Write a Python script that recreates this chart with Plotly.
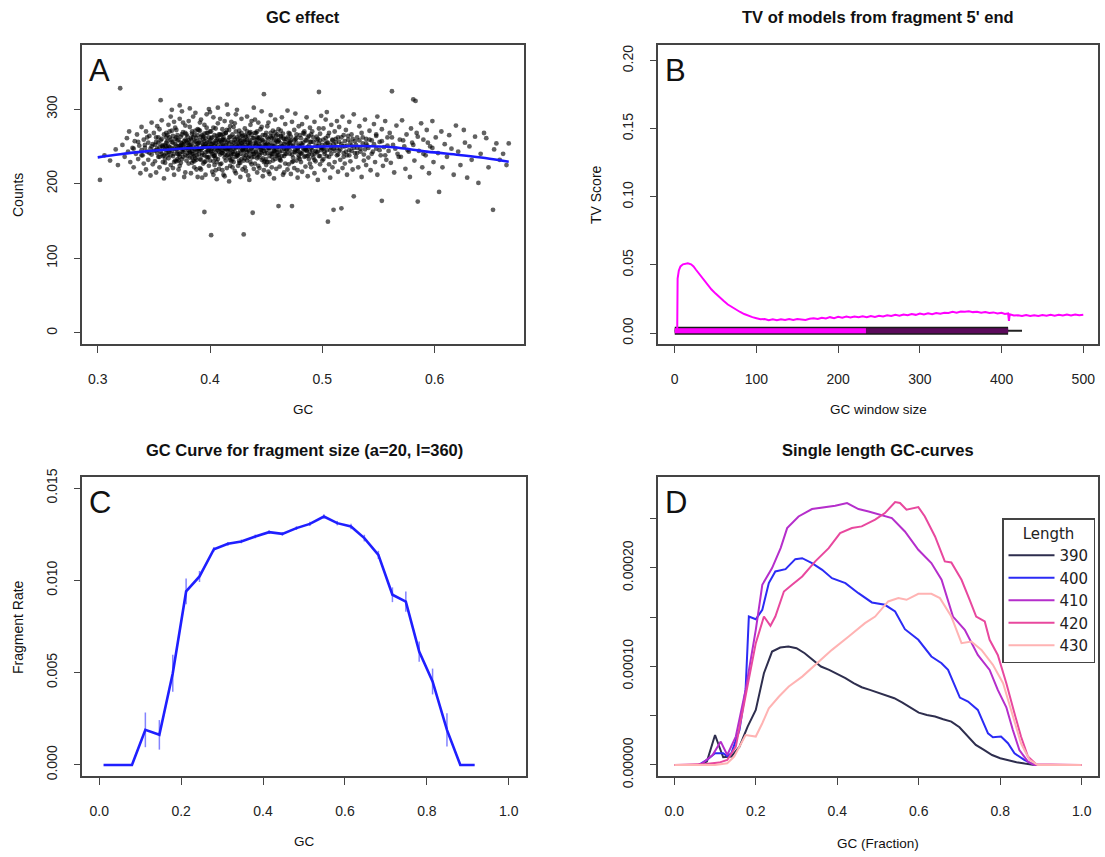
import plotly.graph_objects as go

W, H = 1105, 857
FONT = "Liberation Sans, Arial, sans-serif"
FONT_LEG = "DejaVu Sans, Liberation Sans, sans-serif"

# ---------------- Panel A: GC effect (scatter + loess) ----------------
scatter_points = [
    (0.302,205),(0.306,238),(0.311,231),(0.316,246),(0.318,225),(0.320,328),
    (0.322,252),(0.324,236),(0.326,261),(0.327,243),(0.329,229),(0.328,270),
    (0.331,248),(0.332,222),(0.333,257),(0.334,240),(0.335,266),(0.336,233),(0.337,251),(0.338,214),(0.339,245),(0.339,276),
    (0.340,238),(0.341,259),(0.341,227),(0.342,248),(0.343,270),(0.343,219),(0.344,243),(0.345,255),(0.345,232),(0.346,264),(0.347,247),(0.347,211),(0.348,282),(0.348,239),(0.349,253),(0.349,226),
    (0.350,244),(0.350,268),(0.351,230),(0.352,256),(0.352,215),(0.353,241),(0.353,277),(0.354,236),(0.354,262),(0.355,249),(0.355,222),(0.356,312),(0.356,258),(0.357,240),(0.357,285),(0.358,229),(0.358,251),(0.359,266),(0.359,207),(0.355,273),(0.352,245),(0.358,237),
    (0.360,252),(0.360,228),(0.361,268),(0.361,241),(0.362,219),(0.362,257),(0.363,279),(0.363,234),(0.364,249),(0.364,262),(0.365,225),(0.365,290),(0.366,244),(0.366,271),(0.367,237),(0.367,255),(0.368,212),(0.368,247),(0.368,283),(0.369,231),(0.369,260),(0.361,250),(0.363,243),(0.365,238),(0.366,299),(0.367,221),(0.369,275),(0.362,265),
    (0.370,246),(0.370,272),(0.371,233),(0.371,258),(0.372,219),(0.372,250),(0.373,287),(0.373,240),(0.374,263),(0.374,228),(0.375,254),(0.375,297),(0.376,236),(0.376,269),(0.377,245),(0.377,209),(0.378,259),(0.378,278),(0.379,231),(0.379,248),(0.371,265),(0.372,239),(0.373,224),(0.374,251),(0.375,243),(0.376,282),(0.377,257),(0.378,215),(0.379,266),(0.370,230),(0.373,305),(0.376,252),
    (0.380,241),(0.380,263),(0.381,227),(0.381,252),(0.382,276),(0.382,235),(0.383,248),(0.383,214),(0.384,267),(0.384,244),(0.385,290),(0.385,231),(0.386,256),(0.386,222),(0.387,271),(0.387,246),(0.388,238),(0.388,261),(0.389,209),(0.389,253),(0.381,284),(0.382,243),(0.383,259),(0.384,228),(0.385,250),(0.386,237),(0.387,295),(0.388,219),(0.389,273),(0.380,255),(0.382,301),(0.384,240),(0.386,265),(0.388,232),
    (0.390,247),(0.390,272),(0.391,233),(0.391,258),(0.392,219),(0.392,286),(0.393,241),(0.393,265),(0.394,227),(0.394,252),(0.395,162),(0.395,279),(0.395,238),(0.396,261),(0.396,212),(0.397,249),(0.397,293),(0.398,235),(0.398,268),(0.399,224),(0.399,256),(0.390,239),(0.391,282),(0.392,246),(0.393,208),(0.394,263),(0.395,250),(0.396,230),(0.397,275),(0.398,243),(0.399,300),(0.391,221),(0.393,254),(0.395,267),(0.397,236),(0.399,245),
    (0.400,258),(0.400,231),(0.401,131),(0.401,270),(0.401,244),(0.402,216),(0.402,262),(0.403,237),(0.403,289),(0.404,251),(0.404,225),(0.405,274),(0.405,242),(0.406,206),(0.406,259),(0.407,233),(0.407,281),(0.408,248),(0.408,220),(0.409,266),(0.409,239),(0.400,296),(0.402,247),(0.403,212),(0.404,265),(0.405,254),(0.406,229),(0.407,302),(0.408,256),(0.409,226),(0.401,253),(0.403,275),(0.405,218),(0.407,245),(0.409,287),(0.404,238),
    (0.410,250),(0.410,227),(0.411,273),(0.411,241),(0.412,212),(0.412,259),(0.413,284),(0.413,235),(0.414,247),(0.414,268),(0.415,221),(0.415,255),(0.416,293),(0.416,239),(0.417,262),(0.417,203),(0.418,245),(0.418,277),(0.419,230),(0.419,256),(0.410,265),(0.411,218),(0.412,244),(0.413,258),(0.414,231),(0.415,306),(0.416,249),(0.417,272),(0.418,224),(0.419,240),(0.411,253),(0.413,210),(0.415,238),(0.417,247),(0.419,283),(0.412,267),
    (0.420,243),(0.420,266),(0.421,229),(0.421,255),(0.422,281),(0.422,217),(0.423,248),(0.423,236),(0.424,262),(0.424,299),(0.425,241),(0.425,224),(0.426,271),(0.426,252),(0.427,209),(0.427,258),(0.428,233),(0.428,287),(0.429,246),(0.429,264),(0.420,222),(0.421,276),(0.422,250),(0.423,214),(0.424,239),(0.425,260),(0.426,231),(0.427,245),(0.428,268),(0.429,219),(0.430,132),(0.421,240),(0.423,293),(0.425,254),(0.427,228),(0.429,251),
    (0.430,257),(0.430,238),(0.431,274),(0.431,222),(0.432,249),(0.432,263),(0.433,231),(0.433,290),(0.434,245),(0.434,211),(0.435,268),(0.435,237),(0.436,254),(0.436,279),(0.437,226),(0.437,247),(0.438,161),(0.438,261),(0.439,240),(0.439,302),(0.430,244),(0.431,256),(0.432,217),(0.433,270),(0.434,235),(0.435,251),(0.436,229),(0.437,284),(0.438,243),(0.439,220),(0.431,234),(0.433,259),(0.435,205),(0.437,266),
    (0.440,250),(0.440,227),(0.441,268),(0.441,242),(0.442,215),(0.442,259),(0.443,282),(0.443,236),(0.444,253),(0.444,221),(0.445,273),(0.445,246),(0.446,232),(0.446,297),(0.447,258),(0.447,210),(0.448,320),(0.448,244),(0.449,265),(0.449,230),(0.440,286),(0.441,255),(0.442,239),(0.443,224),(0.444,262),(0.445,249),(0.446,276),(0.447,234),(0.448,218),(0.449,251),(0.442,270),(0.446,241),
    (0.450,245),(0.450,268),(0.451,229),(0.451,254),(0.452,282),(0.452,216),(0.453,248),(0.453,237),(0.454,263),(0.454,292),(0.455,240),(0.455,222),(0.456,271),(0.456,250),(0.457,207),(0.457,259),(0.458,233),(0.458,286),(0.459,246),(0.459,264),(0.450,225),(0.451,277),(0.452,252),(0.453,213),(0.454,241),(0.455,261),(0.456,231),(0.457,244),(0.458,269),(0.459,220),
    (0.460,256),(0.460,238),(0.461,170),(0.461,273),(0.462,223),(0.462,249),(0.463,264),(0.463,231),(0.464,289),(0.464,244),(0.465,212),(0.465,267),(0.466,237),(0.466,253),(0.467,280),(0.467,227),(0.468,246),(0.468,260),(0.469,219),(0.469,298),(0.460,242),(0.461,258),(0.462,234),(0.463,271),(0.465,250),(0.466,215),(0.467,240),(0.469,262),
    (0.470,249),(0.470,226),(0.471,267),(0.471,240),(0.472,213),(0.472,258),(0.473,170),(0.473,283),(0.474,235),(0.474,252),(0.475,221),(0.475,272),(0.476,245),(0.476,294),(0.477,231),(0.477,261),(0.478,208),(0.478,248),(0.479,277),(0.479,238),(0.471,255),(0.473,229),(0.475,243),(0.477,266),(0.478,218),(0.479,251),
    (0.480,242),(0.480,265),(0.481,229),(0.481,254),(0.482,280),(0.482,216),(0.483,247),(0.484,236),(0.484,270),(0.485,258),(0.485,223),(0.486,289),(0.486,244),(0.487,210),(0.487,262),(0.488,233),(0.488,251),(0.489,275),(0.489,227),(0.481,240),(0.483,268),(0.485,246),(0.487,237),(0.489,256),
    (0.490,248),(0.490,222),(0.491,270),(0.491,239),(0.492,256),(0.493,214),(0.493,283),(0.494,244),(0.494,230),(0.495,263),(0.496,250),(0.496,205),(0.497,323),(0.497,274),(0.497,237),(0.498,258),(0.498,226),(0.499,291),(0.499,245),(0.492,235),(0.495,242),(0.498,267),
    (0.500,252),(0.500,231),(0.501,274),(0.502,243),(0.502,218),(0.503,261),(0.503,286),(0.504,237),(0.505,149),(0.505,255),(0.506,226),(0.506,268),(0.507,245),(0.507,208),(0.508,279),(0.508,240),(0.509,259),(0.509,222),(0.501,248),(0.504,296),
    (0.510,165),(0.510,247),(0.511,270),(0.511,229),(0.512,255),(0.513,238),(0.513,284),(0.514,216),(0.514,262),(0.515,244),(0.515,276),(0.516,232),(0.517,167),(0.517,253),(0.518,221),(0.518,290),(0.519,241),(0.519,265),
    (0.520,250),(0.520,227),(0.521,272),(0.522,238),(0.522,212),(0.523,259),(0.524,283),(0.524,245),(0.525,230),(0.526,266),(0.526,251),(0.527,219),(0.528,183),(0.528,293),(0.529,241),(0.529,257),
    (0.530,236),(0.531,262),(0.531,248),(0.532,222),(0.533,277),(0.534,243),(0.535,209),(0.535,268),(0.536,254),(0.537,231),(0.538,286),(0.538,246),(0.539,225),(0.539,260),
    (0.540,251),(0.541,235),(0.542,271),(0.543,218),(0.544,258),(0.545,243),(0.546,280),(0.547,229),(0.548,264),(0.548,247),(0.549,212),(0.549,290),
    (0.551,256),(0.552,238),(0.553,177),(0.553,273),(0.554,224),(0.555,249),(0.556,284),(0.557,232),(0.558,262),(0.559,244),
    (0.560,268),(0.561,228),(0.562,324),(0.563,252),(0.564,215),(0.566,278),(0.567,240),(0.569,259),
    (0.570,236),(0.571,285),(0.573,250),(0.574,220),(0.575,266),(0.577,243),(0.578,209),(0.579,274),
    (0.580,255),(0.581,313),(0.583,311),(0.582,231),(0.584,268),(0.585,176),(0.586,244),(0.588,281),(0.589,222),
    (0.590,259),(0.592,238),(0.593,272),(0.595,214),(0.596,250),(0.598,284),(0.599,229),
    (0.601,262),(0.603,241),(0.604,189),(0.606,270),(0.607,222),(0.609,253),
    (0.611,236),(0.613,265),(0.615,247),(0.617,212),(0.619,278),
    (0.621,243),(0.623,225),(0.626,272),(0.627,255),(0.629,208),
    (0.631,250),(0.633,232),(0.636,263),(0.639,201),
    (0.641,240),(0.644,268),(0.646,261),(0.648,222),
    (0.652,165),(0.653,246),(0.655,254),(0.658,232),(0.661,240),(0.664,225),(0.666,254),
]
core_points = [
    (0.332,247),(0.336,256),(0.339,238),(0.342,252),(0.344,262),(0.346,241),(0.348,250),
    (0.351,252),(0.353,247),(0.354,255),(0.356,243),(0.357,260),(0.358,249),(0.359,238),(0.352,262),(0.355,236),(0.357,251),
    (0.360,246),(0.361,255),(0.362,238),(0.363,251),(0.364,243),(0.365,259),(0.366,248),(0.367,264),(0.368,240),(0.369,253),(0.360,233),(0.362,247),(0.364,270),(0.366,256),(0.368,229),(0.361,262),
    (0.370,251),(0.371,244),(0.372,259),(0.373,236),(0.374,248),(0.375,266),(0.376,242),(0.377,253),(0.378,238),(0.379,257),(0.370,262),(0.372,231),(0.374,255),(0.376,247),(0.378,268),(0.371,240),(0.373,250),(0.375,233),
    (0.380,248),(0.381,258),(0.382,241),(0.383,253),(0.384,235),(0.385,262),(0.386,246),(0.387,257),(0.388,243),(0.389,265),(0.380,237),(0.382,252),(0.384,270),(0.386,230),(0.388,249),(0.381,245),(0.383,261),(0.385,240),(0.387,234),(0.389,254),
    (0.390,255),(0.391,246),(0.392,263),(0.393,238),(0.394,249),(0.395,257),(0.396,242),(0.397,268),(0.398,251),(0.399,236),(0.390,244),(0.392,232),(0.394,260),(0.396,253),(0.398,245),(0.391,271),(0.393,248),(0.395,229),(0.397,255),(0.399,262),
    (0.400,249),(0.401,261),(0.402,240),(0.403,255),(0.404,246),(0.405,234),(0.406,264),(0.407,251),(0.408,243),(0.409,258),(0.400,270),(0.402,253),(0.404,237),(0.406,248),(0.408,266),(0.401,242),(0.403,230),(0.405,257),(0.407,261),(0.409,247),
    (0.410,256),(0.411,245),(0.412,262),(0.413,239),(0.414,252),(0.415,246),(0.416,258),(0.417,235),(0.418,263),(0.419,249),(0.410,241),(0.412,251),(0.414,268),(0.416,244),(0.418,232),(0.411,259),(0.413,248),(0.415,272),(0.417,254),(0.419,238),
    (0.420,251),(0.421,262),(0.422,243),(0.423,256),(0.424,237),(0.425,249),(0.426,266),(0.427,240),(0.428,254),(0.429,245),(0.420,233),(0.422,259),(0.424,250),(0.426,228),(0.428,263),(0.421,247),(0.423,270),(0.425,238),(0.427,257),(0.429,252),
    (0.430,248),(0.431,259),(0.432,238),(0.433,252),(0.434,264),(0.435,243),(0.436,256),(0.437,235),(0.438,250),(0.439,261),(0.430,231),(0.432,246),(0.434,254),(0.436,269),(0.438,240),(0.431,265),(0.433,242),(0.435,258),(0.437,248),(0.439,236),
    (0.440,255),(0.441,244),(0.442,262),(0.443,249),(0.444,238),(0.445,257),(0.446,246),(0.447,265),(0.448,252),(0.449,240),(0.440,268),(0.442,234),(0.444,251),(0.446,259),(0.448,229),(0.441,253),(0.443,261),(0.445,242),(0.447,248),(0.449,256),
    (0.450,252),(0.451,241),(0.452,260),(0.453,247),(0.454,255),(0.455,236),(0.456,264),(0.457,250),(0.458,243),(0.459,258),(0.450,233),(0.452,248),(0.454,268),(0.456,240),(0.458,254),(0.451,262),(0.453,229),(0.455,251),(0.457,245),(0.459,237),
    (0.460,249),(0.461,258),(0.462,243),(0.463,254),(0.464,237),(0.465,261),(0.466,247),(0.467,256),(0.468,240),(0.469,252),(0.460,266),(0.462,232),(0.464,250),(0.466,260),(0.468,245),(0.461,238),(0.463,263),
    (0.470,254),(0.471,245),(0.472,263),(0.473,239),(0.474,250),(0.475,258),(0.476,242),(0.477,255),(0.478,247),(0.479,235),(0.470,268),(0.472,251),(0.474,230),(0.476,260),(0.478,244),(0.471,257),
    (0.480,250),(0.481,261),(0.482,241),(0.483,255),(0.484,246),(0.485,237),(0.486,258),(0.487,249),(0.488,264),(0.489,243),(0.480,233),(0.482,252),(0.484,267),(0.486,245),(0.488,239),
    (0.490,256),(0.491,245),(0.492,262),(0.493,240),(0.494,251),(0.495,258),(0.496,243),(0.497,254),(0.498,237),(0.499,248),(0.490,266),(0.493,232),(0.496,260),
    (0.500,247),(0.501,259),(0.502,240),(0.503,253),(0.504,245),(0.505,264),(0.506,236),(0.507,252),(0.508,248),(0.509,258),(0.501,233),(0.504,255),
    (0.510,253),(0.511,244),(0.512,260),(0.513,248),(0.514,239),(0.515,256),(0.516,246),(0.517,262),(0.518,250),(0.519,236),
    (0.520,257),(0.521,243),(0.522,251),(0.523,264),(0.524,238),(0.525,255),(0.526,244),(0.527,260),(0.528,248),
    (0.530,252),(0.531,241),(0.533,258),(0.534,247),(0.536,262),(0.537,239),(0.539,254),
    (0.541,248),(0.542,259),(0.544,240),(0.546,253),(0.548,266),
    (0.551,245),(0.553,257),(0.556,238),(0.558,251),
    (0.562,262),(0.565,247),(0.568,236),(0.572,258),(0.576,245),(0.581,252),(0.585,263),(0.590,240),(0.594,255),(0.598,248),
]
all_points = scatter_points + core_points
gc_a = [p[0] for p in all_points]
counts_a = [p[1] for p in all_points]

loess_gc = [0.300, 0.320, 0.340, 0.370, 0.400, 0.430, 0.460, 0.500, 0.534, 0.563, 0.593, 0.622, 0.645, 0.666]
loess_counts = [235.3, 239.5, 243.0, 246.5, 248.8, 249.3, 249.0, 249.8, 250.6, 248.8, 243.0, 238.5, 234.5, 229.5]

# ---------------- Panel B: TV of models ----------------
tv_window = [3, 3.5, 5, 7, 10, 13, 16, 20, 23, 26, 30, 35, 40, 45, 50, 55, 60, 65, 70, 75, 80, 85, 90, 95,
             100, 105, 110, 115, 120, 125, 130, 135, 140, 145, 150, 155, 160, 165, 170, 175, 180, 185, 190, 195,
             200, 205, 210, 215, 220, 225, 230, 235, 240, 245, 250, 255, 260, 265, 270, 275, 280, 285, 290, 295,
             300, 305, 310, 315, 320, 325, 330, 335, 340, 345, 350, 355, 360, 365, 370, 375, 380, 385, 390, 395,
             400, 404, 408, 409, 410, 415, 420, 425, 430, 435, 440, 445, 450, 455, 460, 465, 470, 475, 480, 485,
             490, 495, 500]
tv_score = [0.000, 0.040, 0.046, 0.049, 0.0505, 0.051, 0.0512, 0.0505, 0.049, 0.0465, 0.0435, 0.0395, 0.0355, 0.032, 0.029, 0.026, 0.0235, 0.021, 0.019, 0.0172, 0.0155, 0.014, 0.0127, 0.0117,
            0.0109, 0.0101, 0.0103, 0.0095, 0.0101, 0.0094, 0.0102, 0.0096, 0.0103, 0.0097, 0.0104, 0.0098, 0.0097, 0.0105, 0.0109, 0.0103, 0.0113, 0.0107, 0.0117, 0.0110,
            0.0119, 0.0113, 0.0121, 0.0114, 0.0122, 0.0116, 0.0123, 0.0117, 0.0125, 0.0119, 0.0128, 0.0122, 0.0131, 0.0125, 0.0134, 0.0128, 0.0137, 0.0131, 0.0140, 0.0134,
            0.0143, 0.0137, 0.0145, 0.0139, 0.0148, 0.0142, 0.0150, 0.0148, 0.0156, 0.0150, 0.0159, 0.0156, 0.0160, 0.0154, 0.0157, 0.0150, 0.0155, 0.0147, 0.0152, 0.0144,
            0.0149, 0.0141, 0.0144, 0.0090, 0.0138, 0.0129, 0.0131, 0.0126, 0.0132, 0.0125, 0.0131, 0.0126, 0.0133, 0.0127, 0.0134, 0.0128, 0.0135, 0.0129, 0.0136, 0.0130,
            0.0136, 0.0131, 0.0135]
zero_y = [0.0018, 0.0018]
zero_black_x = [0, 425]
zero_outline_x = [0, 408]
zero_purple_x = [0, 408]
zero_magenta_x = [0, 234]

# ---------------- Panel C: GC curve (a=20, l=360) ----------------
gc_c = [0.0106, 0.0449, 0.0800, 0.1127, 0.1469, 0.1796, 0.2122, 0.2449, 0.2800, 0.3143, 0.3469, 0.3812, 0.4147, 0.4473,
        0.4816, 0.5143, 0.5486, 0.5812, 0.6147, 0.6473, 0.6816, 0.7159, 0.7486, 0.7812, 0.8139, 0.8490, 0.8816, 0.9167]
rate_c = [0.0, 0.0, 0.0, 0.00190, 0.00163, 0.00497, 0.00940, 0.01021, 0.01169, 0.01198, 0.01211, 0.01238, 0.01261, 0.01252,
          0.01283, 0.01306, 0.01346, 0.01310, 0.01292, 0.01229, 0.01138, 0.00922, 0.00885, 0.00614, 0.00452, 0.00190, 0.0, 0.0]
err_c = [0.0, 0.0, 0.0, 0.00094, 0.00080, 0.00100, 0.00070, 0.00030, 0.00012, 0.00010, 0.00010, 0.00010, 0.00010, 0.00010,
         0.00010, 0.00012, 0.00012, 0.00012, 0.00015, 0.00018, 0.00022, 0.00040, 0.00055, 0.00055, 0.00070, 0.00090, 0.0, 0.0]

# ---------------- Panel D: single length GC-curves ----------------
lengths = ["390", "400", "410", "420", "430"]
length_colors = ["#2e2e4e", "#2b2bf5", "#b52ecb", "#e8489e", "#ffb3b3"]

gc_390 = [0, 0.02, 0.04, 0.06, 0.08, 0.10, 0.12, 0.14, 0.16, 0.18, 0.20, 0.22, 0.24, 0.26, 0.28, 0.30, 0.32, 0.34, 0.36, 0.38,
          0.40, 0.42, 0.44, 0.46, 0.48, 0.50, 0.52, 0.54, 0.56, 0.58, 0.60, 0.62, 0.64, 0.66, 0.68, 0.70, 0.72, 0.74, 0.76, 0.78,
          0.80, 0.82, 0.84, 0.86, 0.88, 0.90, 0.95, 1.0]
rate_390 = [0, 0, 0, 0, 3.4e-6, 30.4e-6, 7.8e-6, 8.5e-6, 18.6e-6, 38.9e-6, 55.8e-6, 93.0e-6, 115.0e-6, 119.1e-6, 120.1e-6, 118.4e-6,
            113.3e-6, 106.6e-6, 99.8e-6, 96.4e-6, 92.4e-6, 88.0e-6, 82.9e-6, 78.8e-6, 76.1e-6, 73.4e-6, 71.0e-6, 67.7e-6, 63.3e-6,
            58.5e-6, 53.1e-6, 50.7e-6, 49.1e-6, 46.4e-6, 44.0e-6, 38.2e-6, 28.8e-6, 20.3e-6, 15.2e-6, 10.1e-6, 6.8e-6, 4.4e-6,
            2.7e-6, 1.4e-6, 0.3e-6, 0, 0, 0]

gc_400 = [0, 0.06, 0.08, 0.10, 0.12, 0.13, 0.14, 0.16, 0.175, 0.183, 0.20, 0.216, 0.232, 0.248, 0.273, 0.297, 0.314, 0.338,
          0.363, 0.387, 0.42, 0.452, 0.485, 0.517, 0.542, 0.566, 0.599, 0.631, 0.656, 0.672, 0.701, 0.721, 0.745, 0.77, 0.782,
          0.802, 0.819, 0.835, 0.859, 0.876, 0.892, 1.0]
rate_400 = [0, 0, 5.1e-6, 11.8e-6, 11.8e-6, 9.1e-6, 11.8e-6, 35.5e-6, 76.1e-6, 150.5e-6, 147.8e-6, 157.3e-6, 184.4e-6, 196.2e-6,
            198.6e-6, 208.7e-6, 209.7e-6, 204.7e-6, 197.9e-6, 189.4e-6, 184.4e-6, 174.2e-6, 164.8e-6, 162.4e-6, 155.6e-6,
            137.7e-6, 126.9e-6, 110.0e-6, 103.2e-6, 96.4e-6, 68.3e-6, 64.3e-6, 55.8e-6, 32.1e-6, 28.1e-6, 28.8e-6, 22.0e-6,
            11.8e-6, 5.1e-6, 1.7e-6, 0, 0]

gc_410 = [0, 0.06, 0.069, 0.094, 0.114, 0.13, 0.151, 0.175, 0.20, 0.216, 0.24, 0.261, 0.277, 0.305, 0.338, 0.371, 0.395, 0.424,
          0.452, 0.477, 0.509, 0.534, 0.566, 0.599, 0.631, 0.656, 0.684, 0.713, 0.745, 0.774, 0.794, 0.815, 0.831, 0.847, 0.868,
          0.884, 1.0]
rate_410 = [0, 0, 1.7e-6, 10.1e-6, 23.7e-6, 10.1e-6, 28.8e-6, 76.1e-6, 137.0e-6, 182.7e-6, 199.6e-6, 219.9e-6, 240.2e-6,
            252.0e-6, 259.5e-6, 261.5e-6, 262.9e-6, 265.6e-6, 259.5e-6, 257.1e-6, 253.7e-6, 250.3e-6, 236.8e-6, 218.2e-6,
            204.7e-6, 187.8e-6, 150.5e-6, 137.0e-6, 111.6e-6, 96.4e-6, 76.1e-6, 58.5e-6, 35.5e-6, 15.2e-6, 3.4e-6, 0, 0]

gc_420 = [0, 0.077, 0.11, 0.13, 0.151, 0.175, 0.20, 0.22, 0.236, 0.248, 0.269, 0.289, 0.314, 0.346, 0.379, 0.407, 0.436, 0.46,
          0.493, 0.517, 0.542, 0.554, 0.57, 0.599, 0.615, 0.64, 0.664, 0.68, 0.705, 0.725, 0.741, 0.762, 0.774, 0.794, 0.815,
          0.835, 0.851, 0.868, 0.888, 1.0]
rate_420 = [0, 1.0e-6, 2.4e-6, 5.1e-6, 18.6e-6, 69.4e-6, 123.5e-6, 150.5e-6, 141.1e-6, 150.5e-6, 175.9e-6, 182.7e-6, 191.1e-6,
            206.4e-6, 219.9e-6, 235.1e-6, 240.2e-6, 241.9e-6, 248.7e-6, 255.4e-6, 266.6e-6, 265.6e-6, 258.8e-6, 261.5e-6,
            252.0e-6, 231.7e-6, 206.4e-6, 205.3e-6, 187.8e-6, 167.5e-6, 150.5e-6, 145.5e-6, 126.9e-6, 111.6e-6, 82.9e-6,
            52.4e-6, 28.8e-6, 8.5e-6, 0.7e-6, 0]

gc_430 = [0, 0.10, 0.13, 0.147, 0.175, 0.20, 0.216, 0.232, 0.257, 0.281, 0.314, 0.346, 0.387, 0.428, 0.468, 0.493, 0.525, 0.55,
          0.57, 0.599, 0.631, 0.652, 0.68, 0.705, 0.729, 0.754, 0.782, 0.807, 0.831, 0.851, 0.872, 0.892, 1.0]
rate_430 = [0, 0, 1.7e-6, 8.5e-6, 30.4e-6, 28.8e-6, 42.3e-6, 57.5e-6, 69.4e-6, 79.5e-6, 89.6e-6, 101.5e-6, 116.7e-6, 130.2e-6,
            143.8e-6, 150.5e-6, 165.8e-6, 169.2e-6, 167.5e-6, 173.5e-6, 173.5e-6, 169.2e-6, 150.5e-6, 123.5e-6, 125.2e-6,
            116.7e-6, 101.5e-6, 82.9e-6, 49.1e-6, 22.0e-6, 5.1e-6, 0, 0]

d_gc = [gc_390, gc_400, gc_410, gc_420, gc_430]
d_rate = [rate_390, rate_400, rate_410, rate_420, rate_430]

# ---------------- Layout geometry (pixel boxes -> paper) ----------------
def px_x(a, b):
    return [a / W, b / W]

def px_y(top, bottom):
    return [1 - bottom / H, 1 - top / H]

fig = go.Figure()

# Panel A
fig.add_trace(go.Scatter(x=gc_a, y=counts_a, mode="markers", xaxis="x", yaxis="y",
                         marker=dict(size=4.8, color="rgba(0,0,0,0.62)", line=dict(width=0)),
                         showlegend=False, hoverinfo="skip"))
fig.add_trace(go.Scatter(x=loess_gc, y=loess_counts, mode="lines", xaxis="x", yaxis="y",
                         line=dict(color="#1a1aff", width=2.6, shape="spline"), showlegend=False))

# Panel B
fig.add_trace(go.Scatter(x=zero_black_x, y=zero_y, mode="lines", xaxis="x2", yaxis="y2",
                         line=dict(color="#222222", width=2), showlegend=False))
fig.add_trace(go.Scatter(x=zero_outline_x, y=zero_y, mode="lines", xaxis="x2", yaxis="y2",
                         line=dict(color="#1a1a1a", width=8), showlegend=False))
fig.add_trace(go.Scatter(x=zero_purple_x, y=zero_y, mode="lines", xaxis="x2", yaxis="y2",
                         line=dict(color="#5c0a5c", width=5), showlegend=False))
fig.add_trace(go.Scatter(x=zero_magenta_x, y=zero_y, mode="lines", xaxis="x2", yaxis="y2",
                         line=dict(color="#ff00ff", width=5), showlegend=False))
fig.add_trace(go.Scatter(x=tv_window, y=tv_score, mode="lines", xaxis="x2", yaxis="y2",
                         line=dict(color="#ff00ff", width=2), showlegend=False))

# Panel C
fig.add_trace(go.Scatter(x=gc_c, y=rate_c, mode="lines", xaxis="x3", yaxis="y3",
                         line=dict(color="#1f1fff", width=2.6),
                         error_y=dict(type="data", array=err_c, visible=True, width=0,
                                      color="rgba(90,90,255,0.75)", thickness=1.5),
                         showlegend=False))

# Panel D
for name, col, xs, ys in zip(lengths, length_colors, d_gc, d_rate):
    fig.add_trace(go.Scatter(x=xs, y=ys, mode="lines", xaxis="x4", yaxis="y4", name=name,
                             line=dict(color=col, width=2), showlegend=True))

tickfont = dict(family=FONT, size=14, color="#222222")

def xax(domain, rng, tickvals, ticktext, anchor):
    return dict(domain=domain, range=rng, anchor=anchor, tickvals=tickvals, ticktext=ticktext,
                showline=True, mirror=True, linecolor="#444444", linewidth=1.6,
                ticks="outside", ticklen=7, tickwidth=1.4, tickcolor="#444444", automargin=False,
                showgrid=False, zeroline=False, tickfont=tickfont, ticklabelstandoff=14)

def yax(domain, rng, tickvals, ticktext, anchor):
    return dict(domain=domain, range=rng, anchor=anchor, tickvals=tickvals, ticktext=ticktext,
                showline=True, mirror=True, linecolor="#444444", linewidth=1.6,
                ticks="outside", ticklen=6, tickwidth=1.4, tickcolor="#444444", automargin=False,
                showgrid=False, zeroline=False, tickfont=tickfont, tickangle=-90, ticklabelstandoff=12)

xA = px_x(82, 524)
xB = px_x(658, 1098)
xC = px_x(82, 526)
xD = px_x(658, 1098)
yTop = px_y(45, 344)
yBot = px_y(477, 776)

fig.update_layout(
    width=W, height=H, margin=dict(l=0, r=0, t=0, b=0, autoexpand=False),
    paper_bgcolor="white", plot_bgcolor="white",
    xaxis=xax(xA, [0.286, 0.6796], [0.3, 0.4, 0.5, 0.6], ["0.3", "0.4", "0.5", "0.6"], "y"),
    yaxis=yax(yTop, [-15, 386], [0, 100, 200, 300], ["0", "100", "200", "300"], "x"),
    xaxis2=xax(xB, [-20.5, 518], [0, 100, 200, 300, 400, 500], ["0", "100", "200", "300", "400", "500"], "y2"),
    yaxis2=yax(yTop, [-0.008, 0.2115], [0, 0.05, 0.10, 0.15, 0.20], ["0.00", "0.05", "0.10", "0.15", "0.20"], "x2"),
    xaxis3=xax(xC, [-0.042, 1.042], [0, 0.2, 0.4, 0.6, 0.8, 1.0], ["0.0", "0.2", "0.4", "0.6", "0.8", "1.0"], "y3"),
    yaxis3=yax(yBot, [-0.0006, 0.0156], [0, 0.005, 0.010, 0.015], ["0.000", "0.005", "0.010", "0.015"], "x3"),
    xaxis4=xax(xD, [-0.04, 1.04], [0, 0.2, 0.4, 0.6, 0.8, 1.0], ["0.0", "0.2", "0.4", "0.6", "0.8", "1.0"], "y4"),
    yaxis4=yax(yBot, [-0.0000112, 0.000292], [0, 0.00005, 0.0001, 0.00015, 0.0002, 0.00025],
               ["0.00000", "", "0.00010", "", "0.00020", ""], "x4"),
    legend=dict(x=1002 / W, y=1 - 518 / H, xanchor="left", yanchor="top",
                bordercolor="#444444", borderwidth=1.5, bgcolor="white",
                font=dict(family=FONT_LEG, size=15, color="#222222"),
                title=dict(text="Length", side="top center", font=dict(family=FONT_LEG, size=15, color="#222222")),
                itemwidth=46, tracegroupgap=0),
    showlegend=True,
)

def ann(text, x, y, size, bold=False, angle=0, family=FONT, xanchor="center", yanchor="middle"):
    fig.add_annotation(text=("<b>%s</b>" % text) if bold else text, x=x / W, y=1 - y / H,
                       xref="paper", yref="paper", showarrow=False, textangle=angle,
                       xanchor=xanchor, yanchor=yanchor,
                       font=dict(family=family, size=size, color="#111111"))

# titles
ann("GC effect", 303, 17, 16.5, bold=True)
ann("TV of models from fragment 5' end", 878, 17, 16.5, bold=True)
ann("GC Curve for fragment size (a=20, l=360)", 304, 450, 16.5, bold=True)
ann("Single length GC-curves", 878, 450, 16.5, bold=True)
# axis titles
ann("GC", 303, 410, 13.5)
ann("GC window size", 878, 410, 13.5)
ann("GC", 304, 841, 13.5)
ann("GC (Fraction)", 878, 843, 13.5)
ann("Counts", 18, 195, 14, angle=-90)
ann("TV Score", 596, 195, 14, angle=-90)
ann("Fragment Rate", 18, 627, 14, angle=-90)
# panel letters
ann("A", 87, 70, 31, xanchor="left")
ann("B", 663, 70, 31, xanchor="left")
ann("C", 87, 502, 31, xanchor="left")
ann("D", 663, 502, 31, xanchor="left")

fig.write_html("out.html")
